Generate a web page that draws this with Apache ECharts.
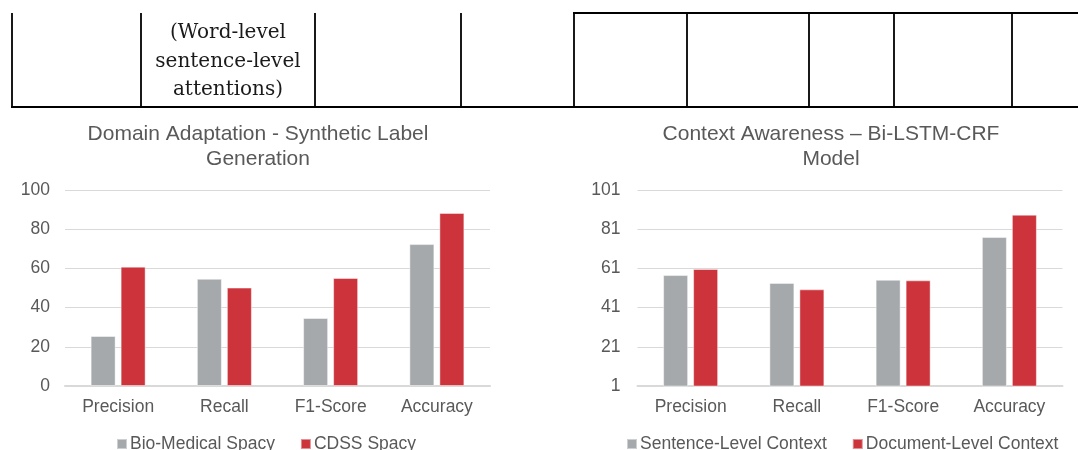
<!DOCTYPE html>
<html>
<head>
<meta charset="utf-8">
<script src="https://cdn.jsdelivr.net/npm/echarts@6/dist/echarts.min.js"></script>
<style>
  html, body { margin: 0; padding: 0; background: #ffffff; }
  #main { width: 1078px; height: 450px; }
</style>
</head>
<body>
<div id="main"></div>
<script>
// Metric categories shared by both panels
const categories = ['Precision', 'Recall', 'F1-Score', 'Accuracy'];

// Domain adaptation panel
const bioMedicalSpacy = [25.5, 54.7, 34.7, 72.4];
const cdssSpacy = [60.9, 50.2, 55.1, 88.3];

// Context awareness panel
const sentenceLevelContext = [57.6, 53.6, 55.2, 77.0];
const documentLevelContext = [60.7, 50.3, 54.9, 88.4];

// Value-axis ranges
const domainAxis = { min: 0, max: 100, interval: 20 };
const contextAxis = { min: 1, max: 101, interval: 20 };

// Text in the table row above the charts
const tableNote = ['(Word-level', 'sentence-level', 'attentions)'];

const SANS = '"Liberation Sans", Arial, sans-serif';
const TEXT = '#595959';
const GRID = '#d9d9d9';
const GREY = '#a5a9ab';
const RED = '#cc333b';

// Table frame: column rules, top rule of the right block, bottom rule
const colRules = [12, 141, 315, 461, 574, 687, 809, 894, 1012];
const tableTop = 13, tableBottom = 107;
const tableGraphics = [];
colRules.forEach(x => tableGraphics.push({
  type: 'line', silent: true,
  shape: { x1: x, y1: tableTop, x2: x, y2: tableBottom },
  style: { stroke: '#000', lineWidth: 1.8 }
}));
tableGraphics.push({
  type: 'line', silent: true,
  shape: { x1: 573, y1: tableTop, x2: 1078, y2: tableTop },
  style: { stroke: '#000', lineWidth: 1.8 }
});
tableGraphics.push({
  type: 'line', silent: true,
  shape: { x1: 11, y1: tableBottom, x2: 1078, y2: tableBottom },
  style: { stroke: '#000', lineWidth: 1.8 }
});
tableNote.forEach((t, i) => tableGraphics.push({
  type: 'text', silent: true,
  style: {
    text: t, x: 228, y: 33 + i * 28.5,
    align: 'center', verticalAlign: 'middle',
    font: '20px "DejaVu Serif", serif', fill: '#1a1a1a'
  }
}));

// Two-line panel titles
function titleLines(lines, cx) {
  return lines.map((t, i) => ({
    type: 'text', silent: true,
    style: {
      text: t, x: cx, y: 134 + i * 25.5,
      align: 'center', verticalAlign: 'middle',
      font: '21px ' + SANS, fill: TEXT
    }
  }));
}

function valueAxis(gridIndex, range, margin) {
  return {
    type: 'value', gridIndex,
    min: range.min, max: range.max, interval: range.interval,
    axisLine: { show: false }, axisTick: { show: false },
    axisLabel: { color: TEXT, fontSize: 17.5, fontFamily: SANS, margin },
    splitLine: { lineStyle: { color: GRID, width: 1 } }
  };
}

function categoryAxis(gridIndex) {
  return {
    type: 'category', gridIndex, data: categories,
    axisLine: { lineStyle: { color: GRID, width: 2 } },
    axisTick: { show: false },
    axisLabel: { color: TEXT, fontSize: 17.5, fontFamily: SANS, margin: 12 }
  };
}

function barSeries(name, data, color, idx) {
  return {
    type: 'bar', name, data,
    xAxisIndex: idx, yAxisIndex: idx,
    barWidth: 25, barGap: '20%',
    itemStyle: { color, borderColor: 'rgba(255,255,255,0.45)', borderWidth: 1 }
  };
}

function legend(names, left) {
  return {
    data: names, left, top: 430,
    icon: 'rect', itemWidth: 10, itemHeight: 10, itemGap: 25,
    textStyle: { color: TEXT, fontSize: 17.5, fontFamily: SANS, padding: [0, 0, 0, -2] }
  };
}

const chart = echarts.init(document.getElementById('main'), null, { renderer: 'canvas' });
chart.setOption({
  animation: false,
  backgroundColor: '#ffffff',
  grid: [
    { left: 65, right: 1078 - 490, top: 190, bottom: 450 - 386 },
    { left: 637.5, right: 1078 - 1062.5, top: 190, bottom: 450 - 386 }
  ],
  xAxis: [categoryAxis(0), categoryAxis(1)],
  yAxis: [valueAxis(0, domainAxis, 15), valueAxis(1, contextAxis, 17)],
  legend: [
    legend(['Bio-Medical Spacy', 'CDSS Spacy'], 111),
    legend(['Sentence-Level Context', 'Document-Level Context'], 621)
  ],
  series: [
    barSeries('Bio-Medical Spacy', bioMedicalSpacy, GREY, 0),
    barSeries('CDSS Spacy', cdssSpacy, RED, 0),
    barSeries('Sentence-Level Context', sentenceLevelContext, GREY, 1),
    barSeries('Document-Level Context', documentLevelContext, RED, 1)
  ],
  graphic: [
    ...tableGraphics,
    ...titleLines(['Domain Adaptation - Synthetic Label', 'Generation'], 258),
    ...titleLines(['Context Awareness \u2013 Bi-LSTM-CRF', 'Model'], 831)
  ]
});
</script>
</body>
</html>
